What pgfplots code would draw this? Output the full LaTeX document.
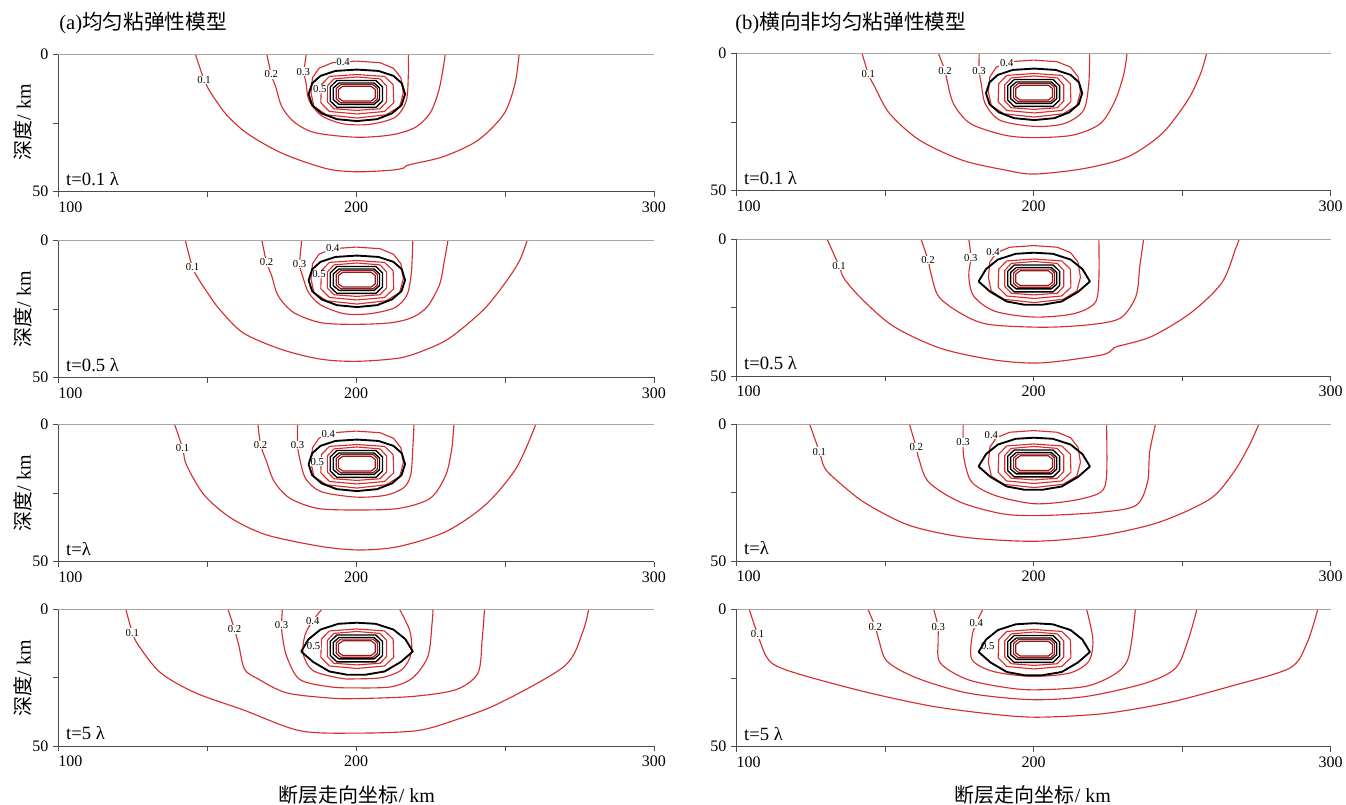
\documentclass[border=0pt]{standalone}
\usepackage{pgfplots}
\pgfplotsset{compat=1.18}
\usepackage{pgfplotstable}
\usepackage{fontspec}
\setmainfont{Liberation Serif}
\newfontfamily\cjk{Noto Sans CJK SC}
\definecolor{cred}{RGB}{214,46,46}
\definecolor{dred}{RGB}{150,25,25}

% shared inner loops (x km, -depth km)
\pgfplotstableread{
x y
195.5 -11.6
205 -11.6
206.4 -12.8
206.4 -15.8
205 -17
195.5 -17
194 -15.8
194 -12.8
195.5 -11.6
}\loopEight
\pgfplotstableread{
x y
194.8 -11.0
205.7 -11.0
207.1 -12.4
207.1 -16.2
205.7 -17.6
194.8 -17.6
193.3 -16.2
193.3 -12.4
194.8 -11.0
}\loopSeven
\pgfplotstableread{
x y
194.2 -10.4
206 -10.4
207.8 -12.2
207.8 -16.5
206 -18.2
194.2 -18.2
192.3 -16.5
192.3 -12.2
194.2 -10.4
}\loopKi
\pgfplotstableread{
x y
193.5 -9.5
206.6 -9.5
208.8 -11.8
208.8 -17
206.6 -19.3
193.5 -19.3
191.3 -17
191.3 -11.8
193.5 -9.5
}\loopKm
\pgfplotstableread{
x y
192.5 -8.9
200.2 -8.2
208 -8.9
210.2 -11.5
210.2 -17.3
208 -19.8
200.2 -20.4
192.5 -19.8
190.3 -17.3
190.3 -11.5
192.5 -8.9
}\loopSix
\pgfplotstableread{
x y
191 -8
200.2 -7.3
209.5 -8
212.4 -11
212.6 -17.6
209.5 -20.8
200.2 -21.7
191 -20.8
188.1 -17.6
188.3 -11
191 -8
}\loopFive
\pgfplotstableread{
x y
187.5 -5
192 -3
200 -2.4
208 -3
212.5 -5
215 -8.5
215.8 -14
214.6 -19
210 -22
200.2 -23.2
190 -22
185.8 -19
184.8 -14
185.3 -8.5
187.5 -5
}\loopFour
\pgfplotstableread{
x y
184 -14.5
185.2 -10.5
188 -7.8
193 -6
200.2 -5.5
207.5 -6
212.5 -7.8
215.3 -10.5
216.4 -14.5
215.2 -18.5
212 -21.5
207 -23.6
200.2 -24.3
193.5 -23.6
188.4 -21.5
185.2 -18.5
184 -14.5
}\loopKoE
\pgfplotstableread{
x y
181.5 -15.5
184 -11
188 -7.5
194 -5.4
200.2 -5
206.5 -5.4
212.5 -7.5
216.5 -11
219 -15.5
215 -19.3
209.5 -22.8
203 -24
197 -24
191 -22.8
185.5 -19.3
181.5 -15.5
}\loopKoL

\pgfplotsset{
  panel/.style={
    scale only axis, height=102.75pt,
    xmin=100, xmax=300, ymin=-50, ymax=0,
    xtick={100,150,200,250,300},
    xticklabels={{\makebox[0pt][l]{100}},{},200,{},300},
    ytick={-50,-25,0}, yticklabels={50,{},0},
    axis lines=left, axis line style={-, draw=black!70, line width=0.6pt},
    tick align=outside, major tick length=4pt,
    tick style={draw=black!70, line width=0.5pt},
    tick label style={font=\fontsize{12}{14}\selectfont},
    /pgf/number format/assume math mode=true,
    clip=true,
    after end axis/.code={\draw[black!35, line width=0.6pt] (rel axis cs:0,1) -- (rel axis cs:1,1);},
  },
  colA/.style={panel, width=446.6pt},
  colB/.style={panel, width=445.5pt},
  rc/.style={color=cred, line width=0.85pt, smooth, tension=0.5, no marks},
  rl/.style={color=cred, line width=0.85pt, no marks, line join=round},
  dl/.style={color=dred, line width=0.9pt, no marks, line join=round},
  kl/.style={color=black, line width=1.4pt, no marks, line join=round},
  ki/.style={color=black, line width=1.0pt, no marks, line join=round},
}
\tikzset{
  clab/.style={font=\fontsize{8}{9}\selectfont, fill=white, inner sep=0.5pt},
  tlab/.style={font=\fontsize{14}{16}\selectfont, anchor=west, inner sep=0pt},
}
\newcommand{\clab}[3]{\node[clab] at (axis cs:#1,#2) {#3};}
\newcommand{\inner}{%
  \addplot[rl] table {\loopSix};
  \addplot[rl] table {\loopFive};
  \addplot[dl] table {\loopSeven};
  \addplot[dl] table {\loopEight};
}
\newcommand{\blackloops}[1]{%
  \addplot[kl] table {#1};
  \addplot[ki] table {\loopKm};
  \addplot[ki] table {\loopKi};
}

\begin{document}
\begin{tikzpicture}
\useasboundingbox (0,0) rectangle (1009.5pt,-603.75pt);

% titles
\node[anchor=west, inner sep=0pt, font=\fontsize{15.5}{17}\selectfont] at (44.25pt,-17.25pt) {(a){\cjk 均匀粘弹性模型}};
\node[anchor=west, inner sep=0pt, font=\fontsize{15.5}{17}\selectfont] at (551.25pt,-17.25pt) {(b){\cjk 横向非均匀粘弹性模型}};

% y labels
\foreach \yy in {-91.7,-232.1,-369.75,-508.5}{
  \node[rotate=90, inner sep=0pt, font=\fontsize{15}{17}\selectfont] at (17.25pt,\yy pt) {{\cjk 深度}/ km};
}
% x labels
\node[inner sep=0pt, font=\fontsize{15}{17}\selectfont] at (267.75pt,-596pt) {{\cjk 断层走向坐标}/ km};
\node[inner sep=0pt, font=\fontsize{15}{17}\selectfont] at (774.75pt,-596pt) {{\cjk 断层走向坐标}/ km};

%================ (a) row 1
\begin{axis}[colA, at={(43.875pt,-143.625pt)}, anchor=south west]
\addplot[rc] coordinates {(146,0) (148.9,-9.3) (150.4,-12.7) (156.2,-21.7) (163.5,-28.9) (175.2,-36.1) (189.8,-41.6) (200,-42.8) (212,-42.2) (216,-41.4) (217.6,-40.3) (229.2,-37.3) (240.9,-31.3) (249.6,-21.7) (253.3,-10.8) (254.7,0)};
\addplot[rc] coordinates {(170,0) (171.5,-7.5) (173,-12) (175,-19) (179,-24.5) (186,-28.5) (200,-30.2) (212,-29.3) (220,-26.5) (225,-21) (228,-12) (229.9,0)};
\addplot[rc] coordinates {(183.2,0) (182.5,-6.3) (183.2,-10.8) (184.2,-16.9) (188.3,-22.3) (195.6,-25.3) (204.4,-25.5) (213.1,-22.9) (216.8,-16.9) (217.5,-7.2) (217.5,0)};
\addplot[rl] table {\loopFour};
\inner
\clab{148.9}{-9.3}{0.1}\clab{171.5}{-7.3}{0.2}\clab{182.2}{-6.3}{0.3}\clab{195.6}{-2.9}{0.4}\clab{187.8}{-12.6}{0.5}
\blackloops{\loopKoE}
\node[tlab] at (axis cs:102.5,-45.3) {t=0.1 λ};
\end{axis}

%================ (a) row 2
\begin{axis}[colA, at={(43.875pt,-283.125pt)}, anchor=south west]
\addplot[rc] coordinates {(142.6,0) (145,-9.8) (147,-14) (150,-19) (154,-25) (162,-33.7) (175,-39.8) (188,-43.3) (200,-44.1) (214.4,-42.9) (223,-40) (231.5,-35.5) (243,-25) (251,-14) (255,-7) (257.4,0)};
\addplot[rc] coordinates {(168.3,0) (169.9,-8) (171.6,-12.9) (173.8,-20.2) (179,-26.3) (188.2,-30) (200,-30.6) (211.8,-30) (219,-28) (224,-24) (228,-16) (229.5,-8) (230.8,0)};
\addplot[rc] coordinates {(181.7,0) (181,-8.6) (182,-13) (184,-19) (188,-23.5) (195,-26.5) (200,-27) (206,-26.5) (213,-24.5) (217,-20) (218.5,-12) (219,0)};
\addplot[rl] table {\loopFour};
\inner
\clab{145}{-9.8}{0.1}\clab{169.9}{-8}{0.2}\clab{181}{-8.6}{0.3}\clab{192.1}{-2.8}{0.4}\clab{187.5}{-12.3}{0.5}
\blackloops{\loopKoE}
\node[tlab] at (axis cs:102.5,-45.3) {t=0.5 λ};
\end{axis}

%================ (a) row 3
\begin{axis}[colA, at={(43.875pt,-421.125pt)}, anchor=south west]
\addplot[rc] coordinates {(139,0) (141.7,-8.7) (143,-14.8) (148.9,-25.7) (158,-34.2) (169.9,-40.3) (188.2,-44.5) (201.3,-45.8) (214.4,-44.5) (230.1,-39.1) (243.3,-29.4) (253.7,-16) (260.3,0)};
\addplot[rc] coordinates {(167,0) (167.9,-7.5) (169.9,-13.6) (172.5,-20.9) (177.7,-26.9) (186.9,-30.6) (200,-31.2) (214.4,-30.6) (224.9,-26.9) (230.1,-18.4) (232.1,-8.7) (232.8,0)};
\addplot[rc] coordinates {(180.3,0) (180.3,-7.5) (181,-12.4) (183,-19.7) (188.2,-24.5) (200,-26.5) (210,-25.8) (216,-23) (218.3,-18.4) (219,-8.7) (219.4,0)};
\addplot[rl] table {\loopFour};
\inner
\clab{141.7}{-8.7}{0.1}\clab{167.9}{-7.5}{0.2}\clab{180.3}{-7.5}{0.3}\clab{190.6}{-3.3}{0.4}\clab{186.9}{-13.6}{0.5}
\blackloops{\loopKoE}
\node[tlab] at (axis cs:102.5,-45.3) {t=λ};
\end{axis}

%================ (a) row 4
\begin{axis}[colA, at={(43.875pt,-559.5pt)}, anchor=south west]
\addplot[rc] coordinates {(122.6,0) (124.8,-8.6) (127,-13.5) (134.3,-23.3) (146,-30.6) (162,-36.8) (181,-44.4) (200,-45.3) (220.4,-44.4) (233.6,-40.4) (248.2,-34.3) (270,-20.8) (276,-8.6) (278.1,0)};
\addplot[rc] coordinates {(156.9,0) (159.1,-7.4) (160.6,-13.5) (162.5,-22) (167,-25.5) (176.6,-30.6) (191.2,-32.5) (200,-32.7) (219,-31.9) (233.6,-29.4) (240.9,-23.3) (242.3,-11) (243.1,0)};
\addplot[rc] coordinates {(175.2,0) (174.9,-5.9) (175.2,-9.8) (176.6,-17.2) (181,-25.7) (191.2,-28.4) (200,-28.8) (211.7,-28.4) (219,-25.1) (224.1,-17.2) (225.5,-4.9) (225.8,0)};
\addplot[rc] coordinates {(188.5,0) (185.4,-4.3) (182.8,-9.5) (182.2,-16.5) (185.5,-22.5) (194.9,-25.3) (200,-25.5) (208.8,-25) (215.5,-22) (218.5,-16) (218,-8) (214.5,0)};
\inner
\clab{124.8}{-8.6}{0.1}\clab{159.1}{-7.4}{0.2}\clab{174.9}{-5.9}{0.3}\clab{185.4}{-4.3}{0.4}\clab{185.7}{-13.5}{0.5}
\blackloops{\loopKoL}
\node[tlab] at (axis cs:102.5,-45.3) {t=5 λ};
\end{axis}

%================ (b) row 1
\begin{axis}[colB, at={(552.375pt,-142.875pt)}, anchor=south west]
\addplot[rc] coordinates {(142.3,0) (144.4,-7.5) (146.6,-12.3) (151.6,-22) (161.6,-31.6) (175.9,-38.9) (190.3,-42.5) (200.3,-44) (217.5,-41.9) (231.8,-37.7) (243.3,-29.2) (251.9,-17.1) (256.2,-7.5) (258.3,0)};
\addplot[rc] coordinates {(168,0) (170.2,-6.3) (170.9,-9.9) (173.1,-18.4) (178.8,-25.6) (190.3,-29.8) (200.3,-30.7) (213.2,-29.8) (222.5,-25.6) (227.5,-17.1) (230.4,-7.5) (231.5,0)};
\addplot[rc] coordinates {(181.7,0) (181.7,-6.3) (182.4,-11.1) (183.8,-18.4) (188.8,-24.4) (200.3,-26.6) (210.3,-25.6) (216.8,-20.8) (218.6,-11.1) (218.9,0)};
\addplot[rl] table {\loopFour};
\inner
\clab{144.4}{-7.5}{0.1}\clab{170.2}{-6.3}{0.2}\clab{181.7}{-6.3}{0.3}\clab{191}{-3.3}{0.4}
\blackloops{\loopKoE}
\node[tlab] at (axis cs:102.5,-45.3) {t=0.1 λ};
\end{axis}

%================ (b) row 2
\begin{axis}[colB, at={(552.375pt,-282pt)}, anchor=south west]
\addplot[rc] coordinates {(130.5,0) (134.5,-9.8) (136.4,-14.7) (142.4,-22.1) (152.9,-31.9) (168.7,-39.9) (187.1,-44.2) (202.9,-45.2) (222.6,-42.4) (226.6,-40.3) (228,-39.3) (239.7,-35.6) (252.9,-27) (263.4,-16) (268,-3.7) (269.3,0)};
\addplot[rc] coordinates {(162.1,0) (164.5,-7.7) (165.4,-12.3) (168,-20.9) (175.3,-27) (184.5,-31.1) (202.9,-32.2) (218.7,-31.3) (229.2,-28.9) (234.5,-20.9) (235.8,-9.8) (237.1,0)};
\addplot[rc] coordinates {(178.2,0) (178.9,-6.8) (178.2,-13.5) (179.9,-20.9) (187.1,-26.4) (200.3,-28.5) (213.4,-27.3) (220.7,-23.3) (222,-14.7) (222,0)};
\addplot[rl] table {\loopFour};
\inner
\clab{134.5}{-9.8}{0.1}\clab{164.5}{-7.7}{0.2}\clab{178.9}{-6.8}{0.3}\clab{186.4}{-4.7}{0.4}
\blackloops{\loopKoL}
\node[tlab] at (axis cs:102.5,-45.3) {t=0.5 λ};
\end{axis}

%================ (b) row 3
\begin{axis}[colB, at={(552.375pt,-420.75pt)}, anchor=south west]
\addplot[rc] coordinates {(124.6,0) (127.9,-10.1) (129.9,-16.4) (135.8,-22.5) (143.7,-29.1) (158.2,-37) (176.6,-41.3) (200.3,-42.8) (222.6,-40.7) (242.4,-35.8) (259.5,-27.3) (267.4,-17.6) (272.6,-7.9) (275.9,0)};
\addplot[rc] coordinates {(158.2,0) (160.5,-8.5) (161.4,-12.7) (164.7,-21.2) (175.3,-28.5) (189.7,-32.8) (202.9,-33.4) (222.6,-32.2) (234.5,-29.7) (238.4,-21.2) (239.1,-10.3) (241.1,0)};
\addplot[rc] coordinates {(176.3,0) (176.3,-6.7) (176.6,-12.7) (179.2,-21.2) (187.1,-26.1) (200.3,-29.1) (213.4,-27.9) (222.6,-24.9) (224.6,-18.8) (224.6,0)};
\addplot[rl] table {\loopFour};
\inner
\clab{127.9}{-10.1}{0.1}\clab{160.5}{-8.5}{0.2}\clab{176.3}{-6.7}{0.3}\clab{185.8}{-3.9}{0.4}
\blackloops{\loopKoL}
\node[tlab] at (axis cs:102.5,-45.3) {t=λ};
\end{axis}

%================ (b) row 4
\begin{axis}[colB, at={(552.375pt,-559.875pt)}, anchor=south west]
\addplot[rc] coordinates {(104.3,0) (107.1,-9.1) (110,-17.1) (113.6,-20.7) (123.6,-24.4) (145,-30.5) (166.4,-35.4) (187.9,-38.4) (202.1,-39.3) (223.6,-38) (245,-34.1) (266.4,-28) (286.4,-21.3) (292.1,-12.2) (295.7,0)};
\addplot[rc] coordinates {(144.3,0) (146.7,-6.3) (147.9,-11) (150.7,-18.9) (160.7,-25) (177.9,-30.5) (199.3,-32.9) (217.9,-31.7) (237.9,-26.8) (247.9,-21.3) (252.1,-11) (255,0)};
\addplot[rc] coordinates {(166.4,0) (167.9,-6.3) (167.9,-11) (168.6,-19.5) (177.9,-25.6) (192.1,-28.7) (202.1,-29.3) (217.9,-28) (227.9,-23.2) (232.1,-17.1) (234.3,0)};
\addplot[rc] coordinates {(182.9,0) (180.7,-5.1) (179.3,-9.8) (179.3,-18.3) (186.4,-22.6) (199.3,-24.4) (212.1,-23.2) (218.6,-18.9) (220,-11) (217.9,0)};
\inner
\clab{107.1}{-9.1}{0.1}\clab{146.7}{-6.3}{0.2}\clab{167.9}{-6.3}{0.3}\clab{180.7}{-5.1}{0.4}\clab{184.6}{-13.2}{0.5}
\blackloops{\loopKoL}
\node[tlab] at (axis cs:102.5,-45.3) {t=5 λ};
\end{axis}
\end{tikzpicture}
\end{document}
